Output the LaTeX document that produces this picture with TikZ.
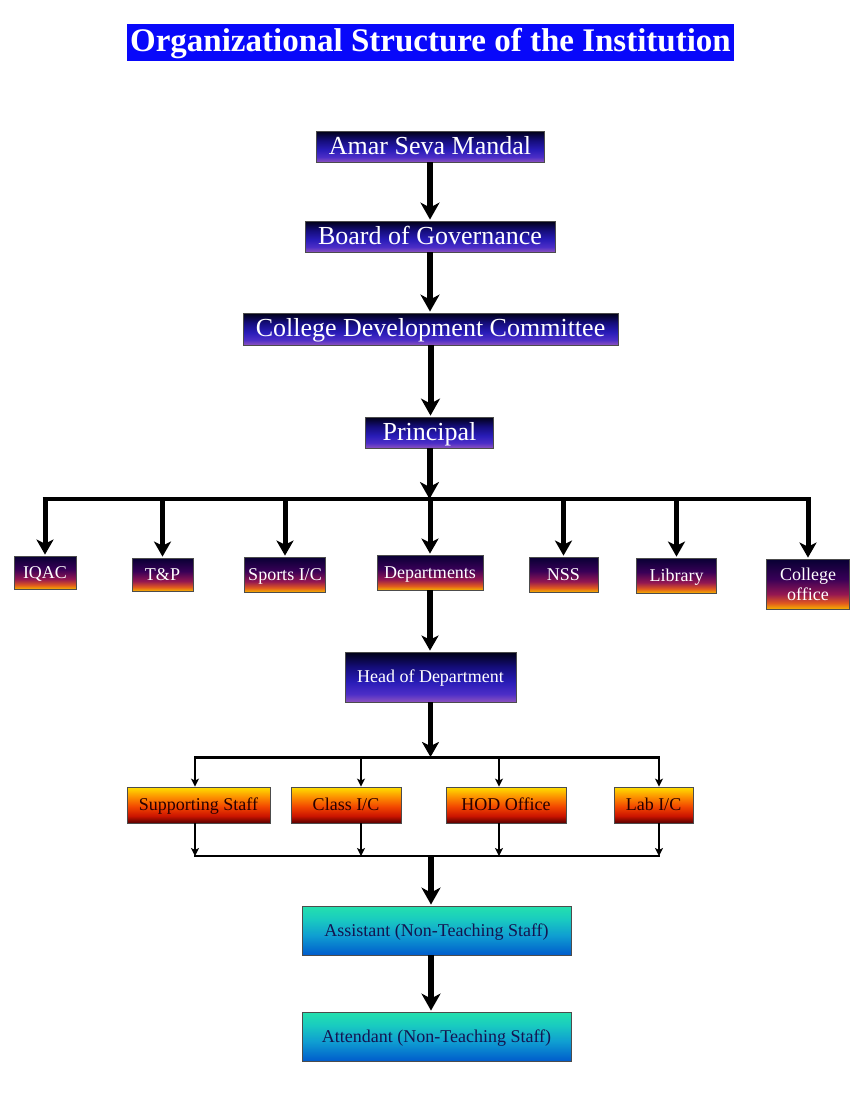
\documentclass[tikz,border=0pt]{standalone}
\usepackage{fontspec}
\setmainfont{Liberation Serif}
\usetikzlibrary{arrows.meta}
\definecolor{titleblue}{RGB}{8,8,250}
\definecolor{tText}{RGB}{20,20,80}
\definecolor{yText}{RGB}{40,0,0}
\pgfdeclareverticalshading{navysh}{100bp}{
  rgb(0bp)=(0.55,0.32,0.75); rgb(25bp)=(0.55,0.32,0.75); rgb(33bp)=(0.30,0.18,0.78);
  rgb(45bp)=(0.16,0.11,0.72); rgb(60bp)=(0.08,0.05,0.48); rgb(75bp)=(0.0,0.0,0.08); rgb(100bp)=(0.0,0.0,0.08)}
\pgfdeclareverticalshading{sunsh}{100bp}{
  rgb(0bp)=(0.96,0.70,0.0); rgb(25bp)=(0.96,0.70,0.0); rgb(31bp)=(0.88,0.35,0.12);
  rgb(40bp)=(0.58,0.09,0.32); rgb(55bp)=(0.22,0.0,0.34); rgb(75bp)=(0.03,0.0,0.20); rgb(100bp)=(0.03,0.0,0.20)}
\pgfdeclareverticalshading{firesh}{100bp}{
  rgb(0bp)=(0.35,0.0,0.0); rgb(25bp)=(0.35,0.0,0.0); rgb(35bp)=(0.80,0.08,0.0);
  rgb(48bp)=(0.95,0.28,0.0); rgb(62bp)=(0.99,0.58,0.0); rgb(75bp)=(1.0,0.88,0.0); rgb(100bp)=(1.0,0.88,0.0)}
\pgfdeclareverticalshading{tealsh}{100bp}{
  rgb(0bp)=(0.0,0.36,0.80); rgb(25bp)=(0.0,0.36,0.80); rgb(45bp)=(0.06,0.62,0.82);
  rgb(62bp)=(0.10,0.80,0.75); rgb(75bp)=(0.14,0.88,0.68); rgb(100bp)=(0.14,0.88,0.68)}
\tikzset{
  box/.style={draw=black!70, line width=0.8pt, inner sep=0pt, align=center,
    font=\fontsize{18}{20}\selectfont, text height=12pt, text depth=0.5pt},
  lvla/.style={box, shading=navysh, text=white,
    font=\fontsize{26}{28}\selectfont, text height=18pt, text depth=2.5pt},
  lvlb/.style={box, shading=sunsh, text=white},
  lvlh/.style={box, shading=navysh, text=white},
  lvly/.style={box, shading=firesh, text=yText},
  lvlt/.style={box, shading=tealsh, text=tText},
  bigarr/.style={line width=6pt, -{Stealth[length=17pt,width=19pt,inset=5pt]}, shorten >=1pt},
  droparr/.style={line width=5pt, -{Stealth[length=15pt,width=17pt,inset=4pt]}, shorten >=1pt},
  thinarr/.style={line width=1.8pt, -{Stealth[length=8pt,width=8pt,inset=2pt]}},
  busa/.style={line width=3.5pt},
  busb/.style={line width=3pt},
}
\begin{document}
\begin{tikzpicture}[x=1pt,y=-1pt]
\useasboundingbox[fill=white] (0,0) rectangle (858,1093);
% title
\node[fill=titleblue, text=white, inner sep=0pt, minimum width=607pt, minimum height=37pt,
  text height=22pt, text depth=5pt,
  font=\bfseries\fontsize{33}{33}\selectfont] (title) at (430.5,42.5)
  {Organizational Structure of the Institution};
% top chain
\node[lvla, minimum width=228pt, minimum height=31pt] (asm) at (430,146.5) {Amar Seva Mandal};
\node[lvla, minimum width=250pt, minimum height=31pt] (bog) at (430,236.5) {Board of Governance};
\node[lvla, minimum width=375pt, minimum height=32pt] (cdc) at (430.5,329) {College Development Committee};
\node[lvla, minimum width=128pt, minimum height=31pt] (prin) at (429.5,432.5) {Principal};
\draw[bigarr] (asm.south) -- (asm.south |- bog.north);
\draw[bigarr] (bog.south) -- (bog.south |- cdc.north);
\draw[bigarr] (cdc.south) -- (cdc.south |- prin.north);
% second level
\node[lvlb, minimum width=62pt, minimum height=33pt] (iqac) at (45,572.5) {IQAC};
\node[lvlb, minimum width=61pt, minimum height=33pt] (tp) at (162.5,574.5) {T\&P};
\node[lvlb, minimum width=81pt, minimum height=35pt] (sports) at (285,574.5) {Sports I/C};
\node[lvlb, minimum width=106pt, minimum height=35pt] (dept) at (430,572.5) {Departments};
\node[lvlb, minimum width=69pt, minimum height=35pt] (nss) at (563.5,574.5) {NSS};
\node[lvlb, minimum width=80pt, minimum height=35pt] (lib) at (676.5,575.5) {Library};
\node[lvlb, minimum width=83pt, minimum height=50pt, text height=, text depth=] (coff) at (808,584) {College\\office};
\coordinate (bya) at (0,499);
\draw[busa] ([xshift=-2.5pt]iqac.north |- bya) -- ([xshift=2.5pt]coff.north |- bya);
\draw[bigarr, shorten >=0pt] (prin.south) -- (prin.south |- bya);
\foreach \n in {iqac,tp,sports,dept,nss,lib,coff}
  \draw[droparr] (\n.north |- bya) -- (\n.north);
% HOD
\node[lvlh, minimum width=171pt, minimum height=50pt] (hod) at (430.5,677) {Head of Department};
\draw[droparr, line width=5.5pt] (dept.south) -- (dept.south |- hod.north);
\coordinate (byb) at (0,757);
\draw[droparr, line width=5.5pt, shorten >=0pt] (hod.south) -- (hod.south |- byb);
% staff row
\node[lvly, minimum width=143pt, minimum height=36pt] (ss) at (198.5,805) {Supporting Staff};
\node[lvly, minimum width=110pt, minimum height=36pt] (cic) at (346,805) {Class I/C};
\node[lvly, minimum width=120pt, minimum height=36pt] (hodo) at (506,805) {HOD Office};
\node[lvly, minimum width=79pt, minimum height=36pt] (lab) at (653.5,805) {Lab I/C};
\coordinate (a1) at (195,757);
\coordinate (a2) at (361,757);
\coordinate (a3) at (499,757);
\coordinate (a4) at (659,757);
\coordinate (c1) at (195,856);
\coordinate (c2) at (361,856);
\coordinate (c3) at (499,856);
\coordinate (c4) at (659,856);
\draw[busb] ([xshift=-1pt]a1) -- ([xshift=1pt]a4);
\draw[thinarr] (a1) -- (a1 |- ss.north);
\draw[thinarr] (a2) -- (a2 |- cic.north);
\draw[thinarr] (a3) -- (a3 |- hodo.north);
\draw[thinarr] (a4) -- (a4 |- lab.north);
\draw[thinarr] (a1 |- ss.south) -- (c1);
\draw[thinarr] (a2 |- cic.south) -- (c2);
\draw[thinarr] (a3 |- hodo.south) -- (c3);
\draw[thinarr] (a4 |- lab.south) -- (c4);
\draw[busb, line width=2.6pt] ([xshift=-1pt]c1) -- ([xshift=1pt]c4);
% bottom
\node[lvlt, minimum width=269pt, minimum height=49pt] (asst) at (436.5,930.5) {Assistant (Non-Teaching Staff)};
\node[lvlt, minimum width=269pt, minimum height=49pt] (att) at (436.5,1036.5) {Attendant (Non-Teaching Staff)};
\coordinate (c0) at (431,856);
\draw[bigarr] (c0) -- (c0 |- asst.north);
\draw[bigarr] (asst.south -| c0) -- (att.north -| c0);
\end{tikzpicture}
\end{document}
